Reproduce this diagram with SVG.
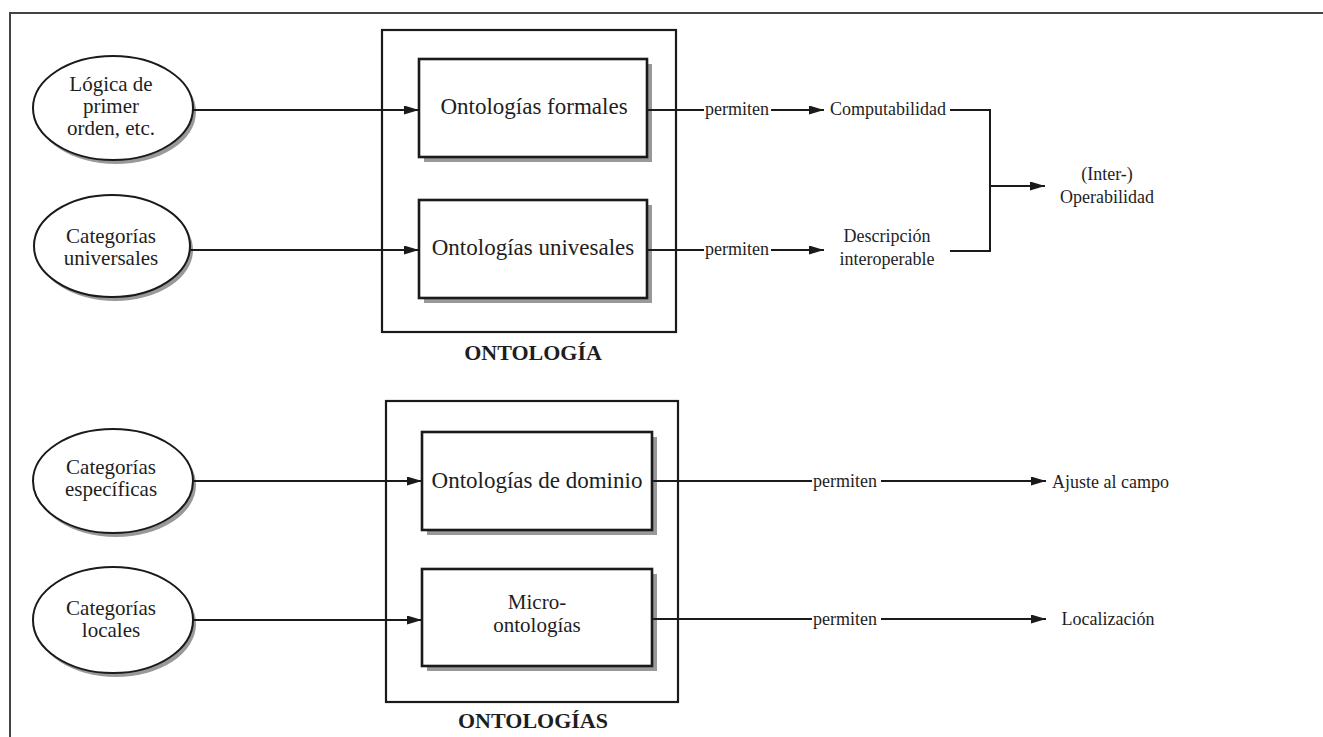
<svg xmlns="http://www.w3.org/2000/svg" width="1323" height="737" viewBox="0 0 1323 737" font-family="'Liberation Serif', 'DejaVu Serif', 'Times New Roman', serif">
  <defs>
    <marker id="arrow" markerUnits="userSpaceOnUse" markerWidth="16" markerHeight="10" refX="15" refY="4.5" orient="auto">
      <path d="M0,0 L15,4.5 L0,9 Z" fill="#1a1a1a"/>
    </marker>
  </defs>
  <style>
    text { font-family: 'Liberation Serif', 'DejaVu Serif', 'Times New Roman', serif; fill: #1e1e1e; }
    .big { font-size: 21px; text-anchor: middle; }
    .boxtext { font-size: 23px; text-anchor: middle; }
    .small { font-size: 18px; }
    .mid { text-anchor: middle; }
    .title { font-size: 22px; font-weight: bold; text-anchor: middle; }
    .frame { fill: none; stroke: #444; stroke-width: 2; }
    .outer { fill: none; stroke: #1a1a1a; stroke-width: 2.2; }
    .box { fill: #fff; stroke: #1a1a1a; stroke-width: 2.6; }
    .shadow { fill: #999; stroke: none; }
    .ell { fill: #fff; stroke: #1a1a1a; stroke-width: 2; }
    .link { fill: none; stroke: #1a1a1a; stroke-width: 2; }
    .arr { marker-end: url(#arrow); }
  </style>

  <rect width="1323" height="737" fill="#fff"/>

  <!-- page frame: top and left rules only -->
  <path class="frame" d="M10,737 V13 H1323"/>

  <!-- source ellipses -->
  <g id="logica">
    <ellipse class="shadow" cx="116" cy="112" rx="80" ry="52"/>
    <ellipse class="ell" cx="113" cy="108" rx="80" ry="52"/>
    <text class="big" x="111" y="91">Lógica de</text>
    <text class="big" x="111" y="113">primer</text>
    <text class="big" x="111" y="135">orden, etc.</text>
  </g>
  <g id="cat-universales">
    <ellipse class="shadow" cx="115" cy="250" rx="78" ry="51"/>
    <ellipse class="ell" cx="112" cy="246" rx="78" ry="51"/>
    <text class="big" x="111" y="243">Categorías</text>
    <text class="big" x="111" y="265">universales</text>
  </g>
  <g id="cat-especificas">
    <ellipse class="shadow" cx="116" cy="485" rx="80" ry="52"/>
    <ellipse class="ell" cx="113" cy="481" rx="80" ry="52"/>
    <text class="big" x="111" y="474">Categorías</text>
    <text class="big" x="111" y="496">específicas</text>
  </g>
  <g id="cat-locales">
    <ellipse class="shadow" cx="116" cy="624" rx="80" ry="53"/>
    <ellipse class="ell" cx="113" cy="620" rx="80" ry="53"/>
    <text class="big" x="111" y="615">Categorías</text>
    <text class="big" x="111" y="637">locales</text>
  </g>

  <!-- ONTOLOGÍA frame with its two boxes -->
  <g id="ontologia">
    <rect class="outer" x="382" y="30" width="294" height="302"/>
    <text class="title" x="533" y="360">ONTOLOGÍA</text>
  </g>
  <g id="formales">
    <rect class="shadow" x="424" y="64" width="228" height="98"/>
    <rect class="box" x="419" y="59" width="228" height="98"/>
    <text class="boxtext" x="534" y="114">Ontologías formales</text>
  </g>
  <g id="universales">
    <rect class="shadow" x="424" y="205" width="228" height="98"/>
    <rect class="box" x="419" y="200" width="228" height="98"/>
    <text class="boxtext" x="533" y="255">Ontologías univesales</text>
  </g>

  <!-- ONTOLOGÍAS frame with its two boxes -->
  <g id="ontologias">
    <rect class="outer" x="386" y="401" width="292" height="301"/>
    <text class="title" x="533" y="728">ONTOLOGÍAS</text>
  </g>
  <g id="dominio">
    <rect class="shadow" x="427" y="437" width="230" height="98"/>
    <rect class="box" x="422" y="432" width="230" height="98"/>
    <text class="boxtext" x="537" y="488">Ontologías de dominio</text>
  </g>
  <g id="micro">
    <rect class="shadow" x="427" y="574" width="230" height="97"/>
    <rect class="box" x="422" y="569" width="230" height="97"/>
    <text class="big" x="537" y="609">Micro-</text>
    <text class="big" x="537" y="632">ontologías</text>
  </g>

  <!-- result labels -->
  <g id="computabilidad">
    <text class="small" x="830" y="115">Computabilidad</text>
  </g>
  <g id="descripcion">
    <text class="small mid" x="887" y="242">Descripción</text>
    <text class="small mid" x="887" y="265">interoperable</text>
  </g>
  <g id="interoperabilidad">
    <text class="small mid" x="1107" y="180">(Inter-)</text>
    <text class="small mid" x="1107" y="203">Operabilidad</text>
  </g>
  <g id="ajuste">
    <text class="small" x="1052" y="488">Ajuste al campo</text>
  </g>
  <g id="localizacion">
    <text class="small mid" x="1108" y="625">Localización</text>
  </g>

  <!-- connectors -->
  <g id="connectors">
    <line class="link arr" x1="193" y1="110" x2="419" y2="110"/>
    <line class="link arr" x1="190" y1="250" x2="419" y2="250"/>
    <line class="link arr" x1="193" y1="481" x2="422" y2="481"/>
    <line class="link arr" x1="193" y1="620" x2="422" y2="620"/>

    <line class="link" x1="647" y1="110" x2="704" y2="110"/>
    <text class="small" x="705" y="115">permiten</text>
    <line class="link arr" x1="771" y1="110" x2="824" y2="110"/>

    <line class="link" x1="647" y1="250" x2="704" y2="250"/>
    <text class="small" x="705" y="255">permiten</text>
    <line class="link arr" x1="771" y1="250" x2="824" y2="250"/>

    <path class="link" d="M950,110 H990 V251 H950"/>
    <line class="link arr" x1="990" y1="186" x2="1045" y2="186"/>

    <line class="link" x1="652" y1="481" x2="812" y2="481"/>
    <text class="small" x="813" y="487">permiten</text>
    <line class="link arr" x1="881" y1="481" x2="1046" y2="481"/>

    <line class="link" x1="652" y1="619" x2="812" y2="619"/>
    <text class="small" x="813" y="625">permiten</text>
    <line class="link arr" x1="881" y1="619" x2="1046" y2="619"/>
  </g>
</svg>
